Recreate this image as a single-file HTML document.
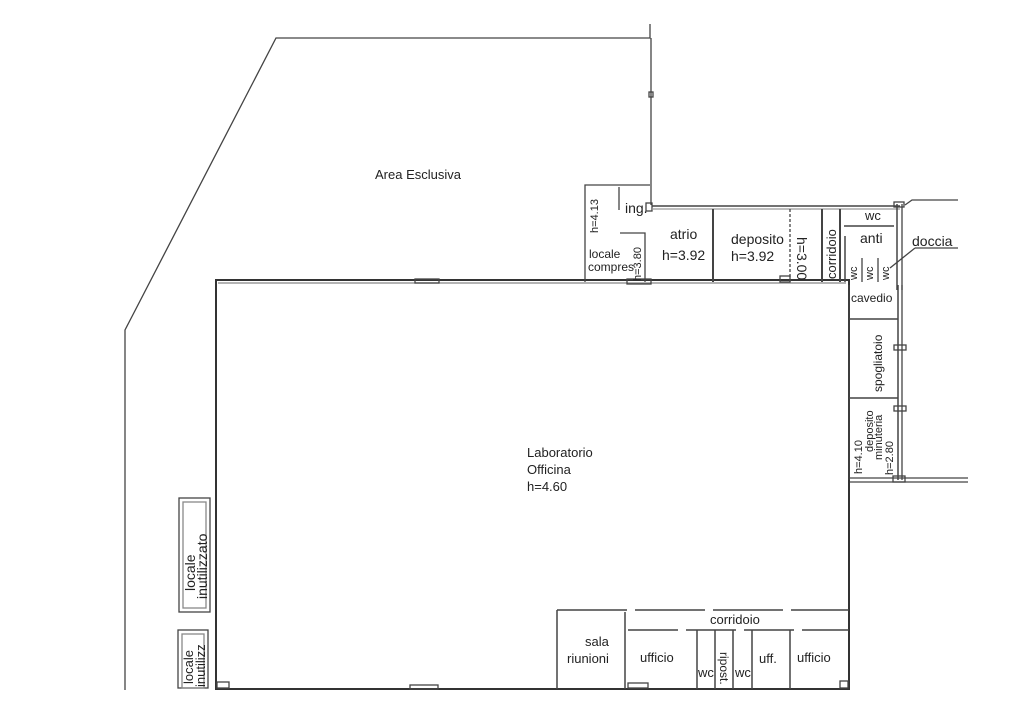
<!DOCTYPE html>
<html><head><meta charset="utf-8"><style>
html,body{margin:0;padding:0;background:#fff;}
svg{display:block}
text{font-family:"Liberation Sans",Arial,sans-serif;fill:#222}
</style></head><body>
<svg width="1024" height="727" viewBox="0 0 1024 727" xmlns="http://www.w3.org/2000/svg">
<g fill="none" stroke="#444" stroke-width="1.3">
<polyline points="650,24 650,38 276,38 125,330 125,690"/>
<line x1="651" y1="38" x2="651" y2="205"/>
<rect x="649" y="92" width="4" height="5"/>
<rect x="216" y="280" width="633" height="409" stroke="#333" stroke-width="2"/>
<line x1="218" y1="283" x2="846" y2="283" stroke="#888"/>
<rect x="415" y="279" width="24" height="4"/>
<rect x="410" y="685" width="28" height="4"/>
<rect x="217" y="682" width="12" height="6"/>
<polyline points="585,282 585,185 650,185"/>
<line x1="619" y1="187" x2="619" y2="210"/>
<polyline points="620,233 645,233 645,282"/>
<rect x="627" y="279" width="24" height="5"/>
<rect x="646" y="203" width="6" height="8"/>
<line x1="652" y1="206" x2="900" y2="206" stroke-width="1.5"/>
<line x1="652" y1="209" x2="900" y2="209" stroke="#999"/>
<line x1="713" y1="209" x2="713" y2="282" stroke-width="2"/>
<line x1="790" y1="209" x2="790" y2="282" stroke-dasharray="3,2"/>
<line x1="822" y1="209" x2="822" y2="282" stroke-width="2"/>
<line x1="840" y1="209" x2="840" y2="282" stroke-width="2"/>
<line x1="897" y1="204" x2="897" y2="290" stroke-width="1.5"/>
<line x1="902" y1="204" x2="902" y2="290"/>
<line x1="844" y1="226" x2="894" y2="226" stroke-width="1.5"/>
<line x1="845" y1="236" x2="845" y2="282" stroke-width="1.5"/>
<line x1="862" y1="258" x2="862" y2="282"/>
<line x1="878" y1="258" x2="878" y2="282"/>
<rect x="894" y="202" width="10" height="5"/>
<polyline points="905,205 912,200 958,200"/>
<line x1="890" y1="268" x2="915" y2="248"/>
<line x1="915" y1="248" x2="958" y2="248"/>
<rect x="780" y="276" width="10" height="6"/>
<line x1="849" y1="285" x2="849" y2="480"/>
<line x1="898" y1="285" x2="898" y2="480" stroke-width="1.5"/>
<line x1="902" y1="285" x2="902" y2="480"/>
<line x1="849" y1="319" x2="898" y2="319" stroke-width="1.5"/>
<line x1="849" y1="398" x2="898" y2="398" stroke-width="1.5"/>
<rect x="894" y="345" width="12" height="5"/>
<rect x="894" y="406" width="12" height="5"/>
<line x1="850" y1="478" x2="968" y2="478"/>
<line x1="850" y1="482" x2="968" y2="482"/>
<rect x="893" y="476" width="12" height="6"/>
<line x1="557" y1="610" x2="849" y2="610" stroke-width="1.5" stroke-dasharray="70,8"/>
<line x1="557" y1="610" x2="557" y2="689" stroke-width="1.5"/>
<line x1="625" y1="612" x2="625" y2="689" stroke-width="1.5"/>
<line x1="628" y1="630" x2="849" y2="630" stroke-width="1.5" stroke-dasharray="50,8"/>
<line x1="697" y1="630" x2="697" y2="689" stroke-width="1.5"/>
<line x1="715" y1="630" x2="715" y2="689" stroke-width="1.5"/>
<line x1="733" y1="630" x2="733" y2="689" stroke-width="1.5"/>
<line x1="752" y1="630" x2="752" y2="689" stroke-width="1.5"/>
<line x1="790" y1="630" x2="790" y2="689" stroke-width="1.5"/>
<rect x="628" y="683" width="20" height="5"/>
<rect x="840" y="681" width="8" height="7"/>
<rect x="179" y="498" width="31" height="114"/>
<rect x="183" y="502" width="23" height="106" stroke="#888"/>
<rect x="178" y="630" width="30" height="58"/>
<rect x="182" y="634" width="22" height="54" stroke="#888"/>
</g>
<text x="375" y="179" font-size="13">Area Esclusiva</text>
<text x="625" y="213" font-size="14">ing.</text>
<text x="589" y="258" font-size="12" fill="#777">locale</text>
<text x="588" y="271" font-size="12" fill="#777">compres</text>
<text transform="translate(598,233) rotate(-90)" font-size="11" fill="#666">h=4.13</text>
<text transform="translate(641,281) rotate(-90)" font-size="11" fill="#666">h=3.80</text>
<text x="670" y="239" font-size="14">atrio</text>
<text x="662" y="260" font-size="14">h=3.92</text>
<text x="731" y="244" font-size="14">deposito</text>
<text x="731" y="261" font-size="14">h=3.92</text>
<text transform="translate(797,237) rotate(90)" font-size="14">h=3.00</text>
<text transform="translate(836,279) rotate(-90)" font-size="13">corridoio</text>
<text x="865" y="220" font-size="13">wc</text>
<text x="860" y="243" font-size="14">anti</text>
<text x="912" y="246" font-size="14">doccia</text>
<text transform="translate(857,280) rotate(-90)" font-size="11">wc</text>
<text transform="translate(873,280) rotate(-90)" font-size="11">wc</text>
<text transform="translate(889,280) rotate(-90)" font-size="11">wc</text>
<text x="851" y="302" font-size="12" fill="#777">cavedio</text>
<text transform="translate(882,392) rotate(-90)" font-size="12" fill="#555">spogliatoio</text>
<text transform="translate(862,474) rotate(-90)" font-size="11" fill="#555">h=4.10</text>
<text transform="translate(873,452) rotate(-90)" font-size="11" fill="#555">deposito</text>
<text transform="translate(882,460) rotate(-90)" font-size="11" fill="#555">minuteria</text>
<text transform="translate(893,475) rotate(-90)" font-size="11" fill="#555">h=2.80</text>
<text x="527" y="457" font-size="13">Laboratorio</text>
<text x="527" y="474" font-size="13">Officina</text>
<text x="527" y="491" font-size="13">h=4.60</text>
<text x="710" y="624" font-size="13">corridoio</text>
<text x="585" y="646" font-size="13">sala</text>
<text x="567" y="663" font-size="13">riunioni</text>
<text x="640" y="662" font-size="13">ufficio</text>
<text x="698" y="677" font-size="13">wc</text>
<text transform="translate(720,652) rotate(90)" font-size="12">ripost.</text>
<text x="735" y="677" font-size="13">wc</text>
<text x="759" y="663" font-size="13">uff.</text>
<text x="797" y="662" font-size="13">ufficio</text>
<text transform="translate(195,591) rotate(-90)" font-size="14">locale</text>
<text transform="translate(207,599) rotate(-90)" font-size="14">inutilizzato</text>
<text transform="translate(193,684) rotate(-90)" font-size="13">locale</text>
<text transform="translate(205,687) rotate(-90)" font-size="13">inutilizz</text>
</svg>
</body></html>
